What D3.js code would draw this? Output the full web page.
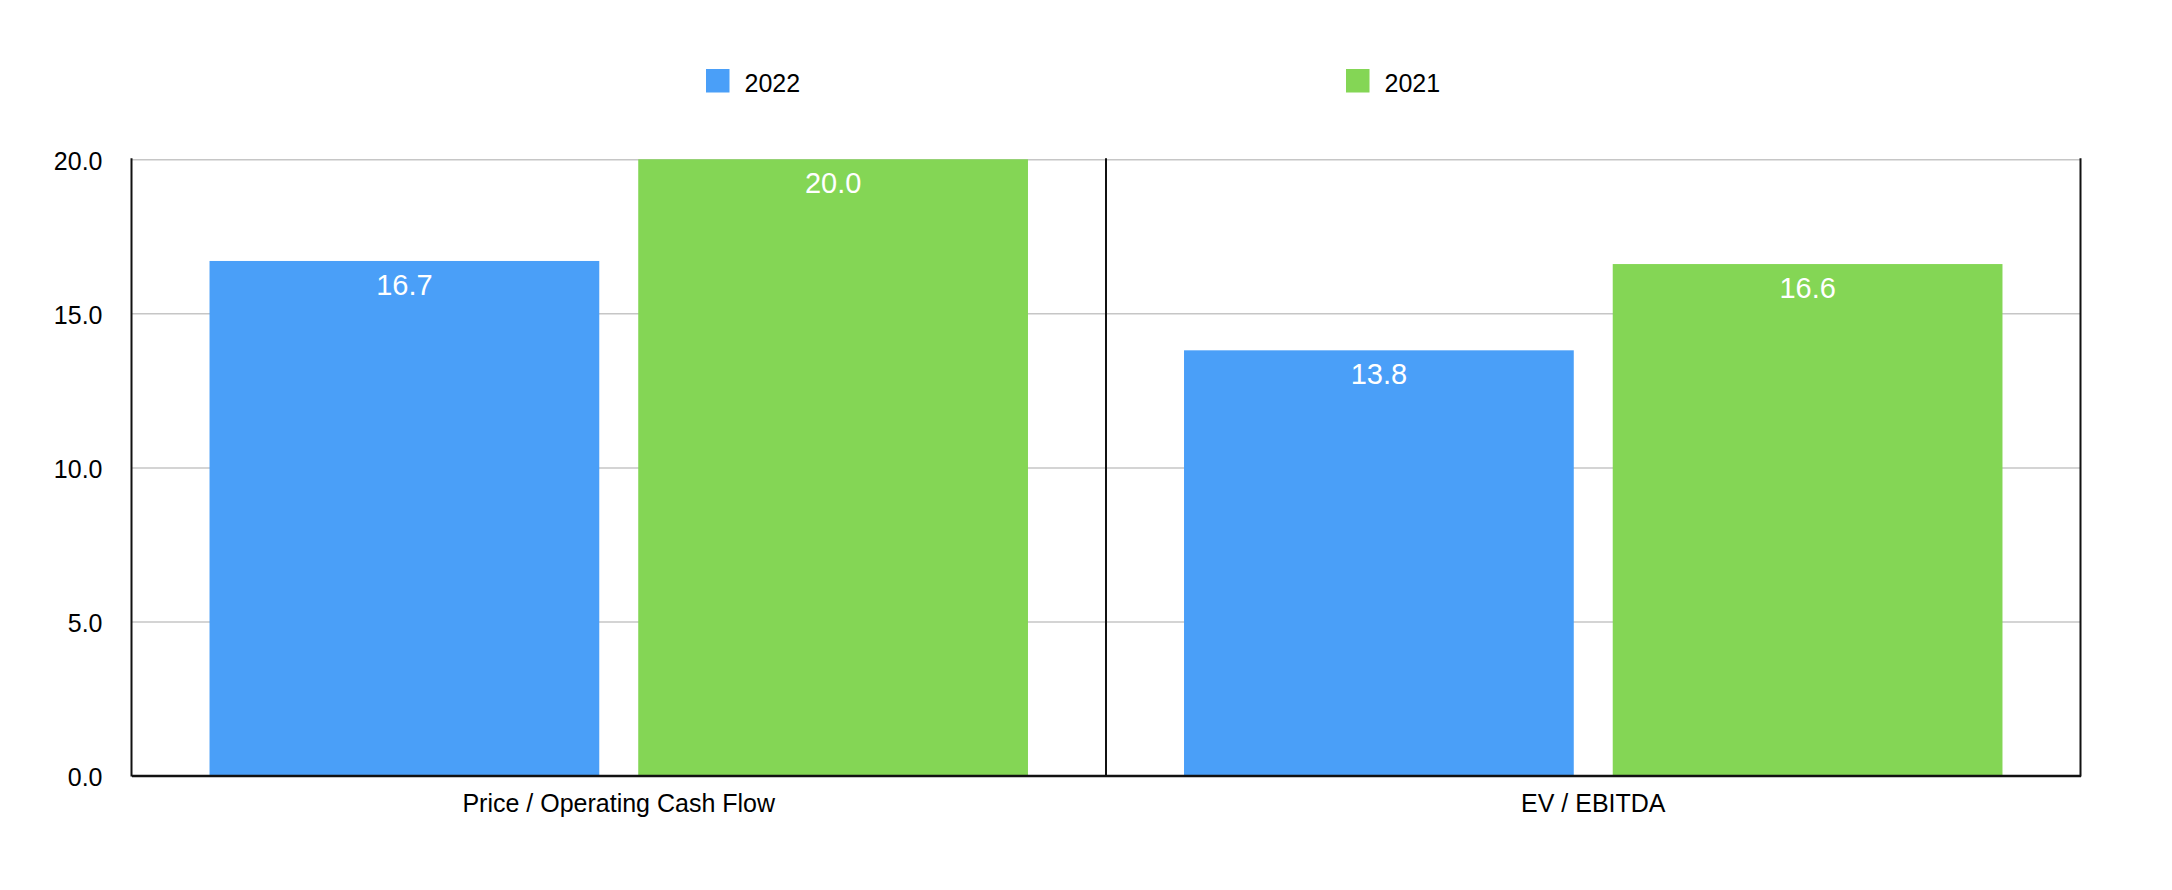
<!DOCTYPE html>
<html>
<head>
<meta charset="utf-8">
<script src="https://cdn.jsdelivr.net/npm/d3@7"></script>
<style>
    html, body { margin: 0; padding: 0; background: #fff; }
    svg { display: block; font-family: "Liberation Sans", Arial, Helvetica, sans-serif; }
</style>
</head>
<body>
<div id="chart"></div>
<script>
// Chart data
const categories = ['Price / Operating Cash Flow', 'EV / EBITDA'];
const series = ['2022', '2021'];
const values2022 = [16.7, 13.8];
const values2021 = [20.0, 16.6];
const yTicks = [0, 5, 10, 15, 20];

const colours = { '2022': '#4a9ff8', '2021': '#84d655' };

const width = 2172;
const height = 890;
const plot = { left: 131.5, right: 2080.5, top: 159.3, bottom: 775.5 };

const rows = categories.map((c, i) => ({
    category: c,
    values: [
        { key: '2022', value: values2022[i] },
        { key: '2021', value: values2021[i] },
    ],
}));

const svg = d3.select('#chart')
    .append('svg')
    .attr('width', width)
    .attr('height', height);

// Scales
const x0 = d3.scaleBand()
    .domain(categories)
    .range([plot.left, plot.right])
    .padding(0);

const x1 = d3.scaleBand()
    .domain(series)
    .range([0, x0.bandwidth()])
    .paddingInner(0.0909)
    .paddingOuter(0.182);

const y = d3.scaleLinear()
    .domain([0, 20])
    .range([plot.bottom, plot.top]);

// Y axis with gridlines
const yAxis = svg.append('g')
    .attr('transform', `translate(${plot.left},0)`)
    .call(d3.axisLeft(y)
        .tickValues(yTicks)
        .tickFormat(d3.format('.1f'))
        .tickSize(-(plot.right - plot.left))
        .tickPadding(29));

yAxis.select('.domain').remove();
yAxis.selectAll('.tick line')
    .attr('stroke', '#c6c6c6')
    .attr('stroke-width', 1.5);
yAxis.selectAll('.tick text')
    .attr('dy', '0.4em')
    .attr('fill', '#000')
    .style('font-size', '25px');

// Bars
const group = svg.append('g')
    .selectAll('g')
    .data(rows)
    .join('g')
    .attr('transform', d => `translate(${x0(d.category)},0)`);

group.selectAll('rect')
    .data(d => d.values)
    .join('rect')
    .attr('x', d => x1(d.key))
    .attr('width', x1.bandwidth())
    .attr('y', d => y(d.value))
    .attr('height', d => y(0) - y(d.value))
    .attr('fill', d => colours[d.key]);

// Value labels inside bars
group.selectAll('text.value')
    .data(d => d.values)
    .join('text')
    .attr('class', 'value')
    .attr('x', d => x1(d.key) + x1.bandwidth() / 2)
    .attr('y', d => y(d.value) + 34)
    .attr('text-anchor', 'middle')
    .attr('fill', '#fff')
    .style('font-size', '29px')
    .text(d => d3.format('.1f')(d.value));

// Frame: left axis, category divider, right edge
const frame = svg.append('g')
    .attr('stroke', '#111')
    .attr('stroke-width', 2);

frame.selectAll('line.v')
    .data([plot.left, x0(categories[1]), plot.right])
    .join('line')
    .attr('class', 'v')
    .attr('x1', d => d)
    .attr('x2', d => d)
    .attr('y1', plot.top - 1)
    .attr('y2', plot.bottom + 1);

// X axis
const xAxis = svg.append('g')
    .attr('transform', `translate(0,${plot.bottom})`)
    .call(d3.axisBottom(x0).tickSize(0));

xAxis.select('.domain')
    .attr('stroke', '#111')
    .attr('stroke-width', 2.5);
xAxis.selectAll('.tick text')
    .attr('dy', null)
    .attr('y', 36)
    .attr('fill', '#000')
    .style('font-size', '25px');

// Legend
const legend = svg.append('g')
    .selectAll('g')
    .data(series)
    .join('g')
    .attr('transform', (d, i) => `translate(${706 + i * 640},69)`);

legend.append('rect')
    .attr('width', 23.5)
    .attr('height', 23.5)
    .attr('fill', d => colours[d]);

legend.append('text')
    .attr('x', 38.5)
    .attr('y', 22.5)
    .attr('fill', '#000')
    .style('font-size', '25px')
    .text(d => d);
</script>
</body>
</html>
